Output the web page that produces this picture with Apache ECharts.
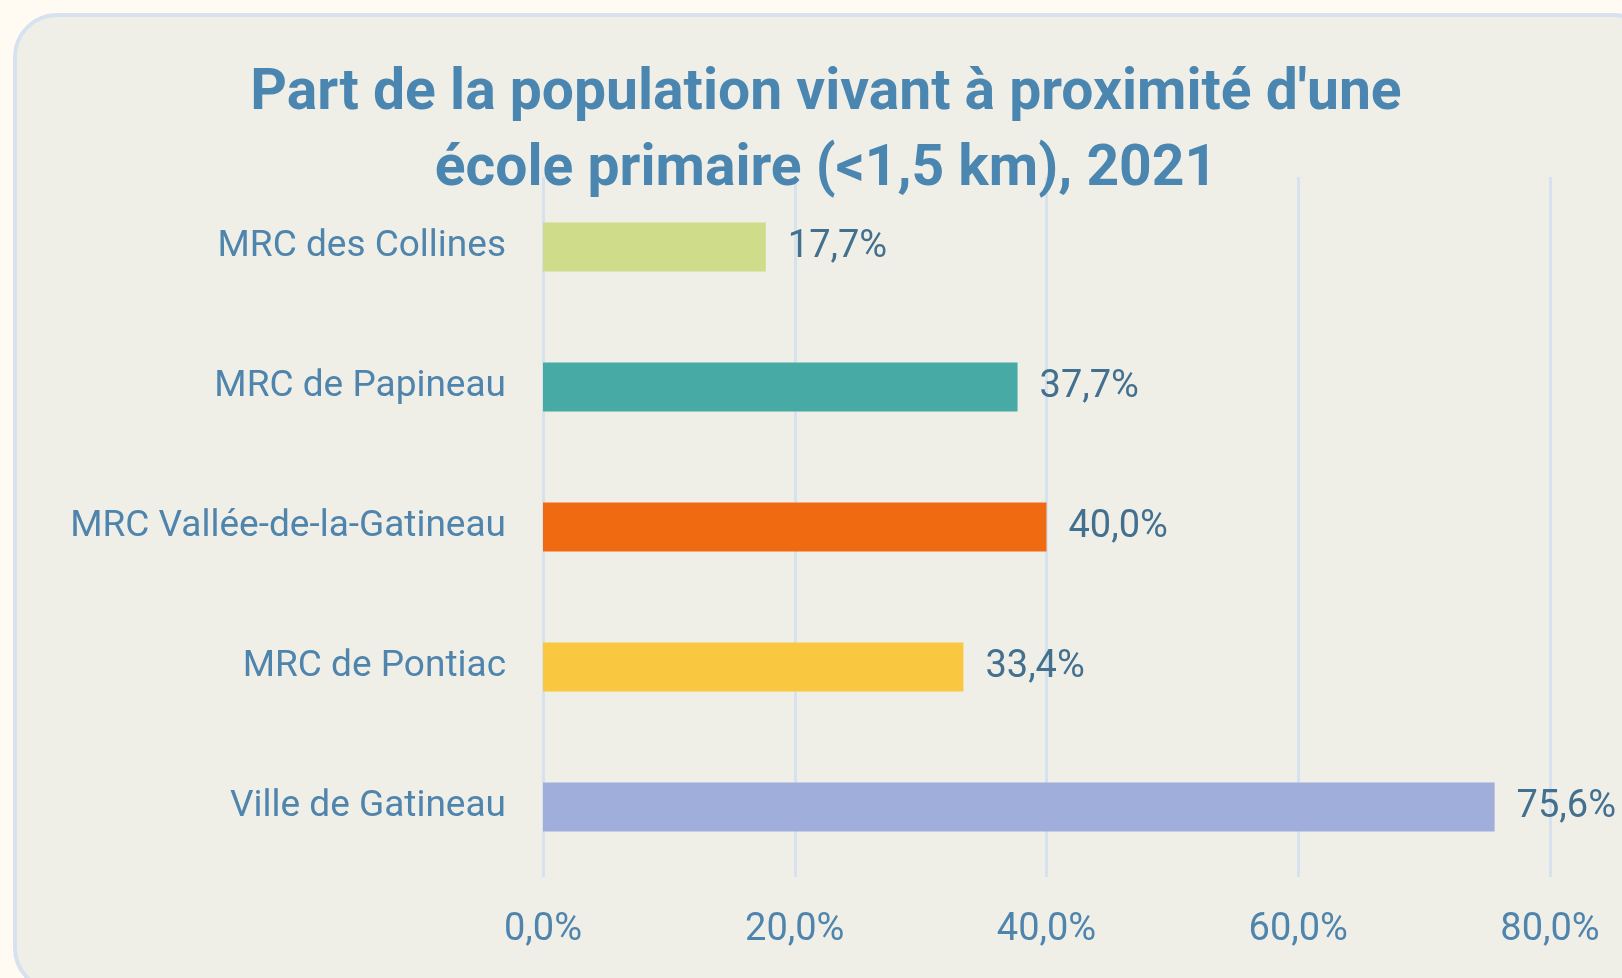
<!DOCTYPE html>
<html>
<head>
<meta charset="utf-8">
<script src="https://cdn.jsdelivr.net/npm/echarts@6/dist/echarts.min.js"></script>
<style>
  html, body { margin: 0; padding: 0; background: #fffaf2; }
  #chart { width: 1622px; height: 978px; }
</style>
</head>
<body>
<div id="chart"></div>
<script>
  const categories = ['MRC des Collines', 'MRC de Papineau', 'MRC Vallée-de-la-Gatineau', 'MRC de Pontiac', 'Ville de Gatineau']
  const values = [17.7, 37.7, 40.0, 33.4, 75.6]
  const barColors = ['#cfdc8a', '#47aaa4', '#f06a12', '#f9c740', '#a0aedc']
  const xTicks = [0, 20, 40, 60, 80]

  const fmt = v => v.toFixed(1).replace('.', ',') + '%'

  let chart = echarts.init(document.getElementById('chart'))
  chart.setOption({
    backgroundColor: '#fffaf2',
    textStyle: {fontFamily: 'Roboto'},
    graphic: [{
      type: 'rect',
      z: -10,
      shape: {x: 15, y: 15, width: 1640, height: 975, r: 42},
      style: {fill: '#efefe8', stroke: '#d6e2ee', lineWidth: 4}
    }],
    title: {
      text: "Part de la population vivant à proximité d'une\nécole primaire (<1,5 km), 2021",
      left: 821,
      textAlign: 'center',
      top: 52,
      textStyle: {
        fontFamily: 'Roboto',
        fontWeight: 'bold',
        fontSize: 57,
        lineHeight: 76,
        color: '#4a86b0'
      }
    },
    grid: {left: 543, right: 72, top: 177, bottom: 101, containLabel: false},
    xAxis: {
      type: 'value',
      min: xTicks[0],
      max: xTicks[xTicks.length - 1],
      interval: 20,
      axisLine: {show: false},
      axisTick: {show: false},
      splitLine: {lineStyle: {color: '#d6e2ee', width: 3}},
      axisLabel: {
        margin: 34,
        fontSize: 38,
        color: '#4f84ad',
        formatter: v => fmt(v)
      }
    },
    yAxis: {
      type: 'category',
      inverse: true,
      data: categories,
      axisLine: {show: false},
      axisTick: {show: false},
      axisLabel: {margin: 37, fontSize: 37, color: '#4f84ad'}
    },
    series: [{
      type: 'bar',
      barWidth: '35%',
      data: values.map((v, i) => ({value: v, itemStyle: {color: barColors[i]}})),
      label: {
        show: true,
        position: 'right',
        distance: 22,
        fontSize: 38,
        color: '#44708f',
        formatter: p => fmt(p.value)
      }
    }]
  })
</script>
</body>
</html>
